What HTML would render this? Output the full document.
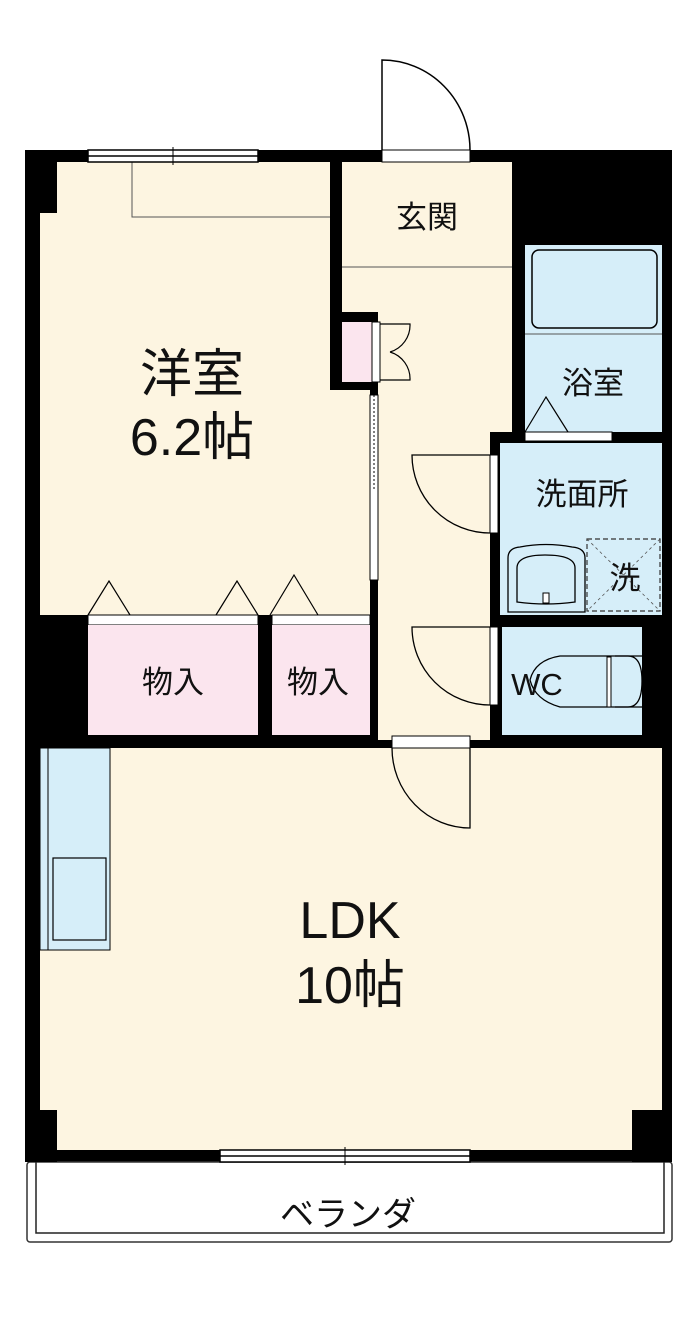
<!DOCTYPE html>
<html><head><meta charset="utf-8"><style>
body{margin:0;background:#fff;}
svg{display:block;}
text{font-family:"Liberation Sans","Noto Sans CJK JP",sans-serif;fill:#111;text-anchor:middle;}
</style></head><body>
<svg width="700" height="1328" viewBox="0 0 700 1328" xmlns="http://www.w3.org/2000/svg">
<rect x="25" y="150" width="647" height="1012" fill="#000"/>
<rect x="27" y="1162" width="645" height="80" rx="3" fill="#fff" stroke="#333" stroke-width="1.5"/>
<path d="M36 1162 V1233 H664 V1162" fill="none" stroke="#222" stroke-width="1.5"/>
<text x="348" y="1226" font-size="34">ベランダ</text>

<!-- western room -->
<path d="M57 162 H330 V390 H370 V615 H40 V213 H57 Z" fill="#fdf5e1"/>
<path d="M132 162 V217 H330" fill="none" stroke="#555" stroke-width="1"/>
<rect x="88" y="150" width="170" height="12" fill="#fff" stroke="#000" stroke-width="1.5"/>
<line x1="88" y1="156" x2="258" y2="156" stroke="#000" stroke-width="1.5"/>
<line x1="173" y1="147" x2="173" y2="165" stroke="#000" stroke-width="1"/>
<text x="192" y="392" font-size="52">洋室</text>
<text x="192" y="455" font-size="52">6.2帖</text>

<!-- genkan + hall -->
<rect x="342" y="162" width="170" height="106" fill="#fdf5e1"/>
<rect x="342" y="268" width="170" height="44" fill="#fdf5e1"/>
<rect x="380" y="268" width="132" height="164" fill="#fdf5e1"/>
<rect x="378" y="268" width="112" height="472" fill="#fdf5e1"/>
<line x1="342" y1="267" x2="512" y2="267" stroke="#555" stroke-width="1"/>
<text x="427" y="228" font-size="31">玄関</text>
<rect x="382" y="150" width="88" height="12" fill="#fff" stroke="#000" stroke-width="1"/>
<path d="M382 150 V60 A88 90 0 0 1 470 150" fill="none" stroke="#000" stroke-width="1.5"/>

<!-- small closet -->
<rect x="342" y="322" width="30" height="60" fill="#fbe5ee"/>
<rect x="372" y="322" width="8" height="60" fill="#fff" stroke="#000" stroke-width="1"/>
<path d="M380 324 H410 A28 28 0 0 1 390 352 M390 352 A28 28 0 0 1 410 380 H380" fill="none" stroke="#000" stroke-width="1.2"/>
<rect x="370" y="395" width="8" height="185" fill="#fff" stroke="#000" stroke-width="1"/>
<line x1="374" y1="395" x2="374" y2="490" stroke="#000" stroke-width="1" stroke-dasharray="2 2"/>

<!-- bath -->
<rect x="525" y="245" width="137" height="187" fill="#d6eef9"/>
<rect x="532" y="250" width="125" height="78" rx="7" fill="#d6eef9" stroke="#000" stroke-width="1.5"/>
<line x1="525" y1="334" x2="662" y2="334" stroke="#555" stroke-width="1"/>
<text x="593" y="394" font-size="31">浴室</text>
<path d="M525 432 L546 397 L568 432" fill="none" stroke="#000" stroke-width="1.2"/>
<rect x="525" y="432" width="87" height="9" fill="#fff" stroke="#000" stroke-width="1"/>

<!-- washroom -->
<rect x="500" y="443" width="162" height="172" fill="#d6eef9"/>
<text x="582" y="505" font-size="31">洗面所</text>
<path d="M508 612 V558 Q508 548 520 547 Q546 542 572 547 Q585 548 585 558 V612 Z" fill="#d6eef9" stroke="#000" stroke-width="1.3"/>
<path d="M517 602 V568 Q517 555 545 555 Q575 555 575 568 V602 Q546 606 517 602 Z" fill="none" stroke="#000" stroke-width="1.3"/>
<rect x="543" y="593" width="6" height="10" fill="#fff" stroke="#000" stroke-width="1"/>
<rect x="587" y="539" width="73" height="72" fill="none" stroke="#333" stroke-width="1.2" stroke-dasharray="5 3"/>
<path d="M587 539 L660 611 M660 539 L587 611" stroke="#555" stroke-width="0.8" stroke-dasharray="3 3"/>
<text x="625" y="589" font-size="31">洗</text>

<!-- WC -->
<rect x="502" y="627" width="140" height="108" fill="#d6eef9"/>
<path d="M642 656 H560 Q535 660 530 680 Q535 700 560 707 H642" fill="#d6eef9" stroke="#000" stroke-width="1.3"/>
<path d="M615 656 H628 Q642 656 642 681 Q642 707 628 707 H615" fill="none" stroke="#000" stroke-width="1.3"/>
<rect x="607" y="657" width="4" height="50" fill="#fff" stroke="#000" stroke-width="1"/>
<text x="537" y="695" font-size="31">WC</text>

<rect x="490" y="455" width="8" height="78" fill="#fff" stroke="#000" stroke-width="1"/>
<path d="M490 455 H412 A78 78 0 0 0 490 533" fill="none" stroke="#000" stroke-width="1.3"/>
<rect x="490" y="627" width="8" height="78" fill="#fff" stroke="#000" stroke-width="1"/>
<path d="M490 627 H412 A78 78 0 0 0 490 705" fill="none" stroke="#000" stroke-width="1.3"/>

<!-- closets -->
<rect x="88" y="615" width="170" height="10" fill="#fff" stroke="#000" stroke-width="1"/>
<rect x="272" y="615" width="98" height="10" fill="#fff" stroke="#000" stroke-width="1"/>
<rect x="88" y="625" width="170" height="110" fill="#fbe5ee"/>
<rect x="272" y="625" width="98" height="110" fill="#fbe5ee"/>
<text x="173" y="693" font-size="31">物入</text>
<text x="318" y="693" font-size="31">物入</text>
<path d="M88 615 L109 581 L130 615 M216 615 L237 581 L258 615 M270 615 L294 575 L318 615" fill="none" stroke="#000" stroke-width="1.2"/>

<!-- LDK -->
<rect x="40" y="748" width="622" height="402" fill="#fdf5e1"/>
<rect x="25" y="1110" width="32" height="52" fill="#000"/>
<rect x="632" y="1110" width="40" height="52" fill="#000"/>
<rect x="40" y="748" width="70" height="202" fill="#d6eef9" stroke="#000" stroke-width="1"/>
<line x1="48" y1="748" x2="48" y2="950" stroke="#000" stroke-width="1"/>
<rect x="53" y="858" width="53" height="82" fill="#d6eef9" stroke="#000" stroke-width="1.2"/>
<text x="350" y="938" font-size="52">LDK</text>
<text x="350" y="1003" font-size="52">10帖</text>
<rect x="392" y="736" width="78" height="12" fill="#fff" stroke="#000" stroke-width="1"/>
<path d="M470 748 V828 A78 80 0 0 1 392 748" fill="none" stroke="#000" stroke-width="1.3"/>
<rect x="220" y="1150" width="250" height="12" fill="#fff" stroke="#000" stroke-width="1.5"/>
<line x1="220" y1="1156" x2="470" y2="1156" stroke="#000" stroke-width="1.5"/>
<line x1="345" y1="1147" x2="345" y2="1165" stroke="#000" stroke-width="1"/>
</svg>
</body></html>
